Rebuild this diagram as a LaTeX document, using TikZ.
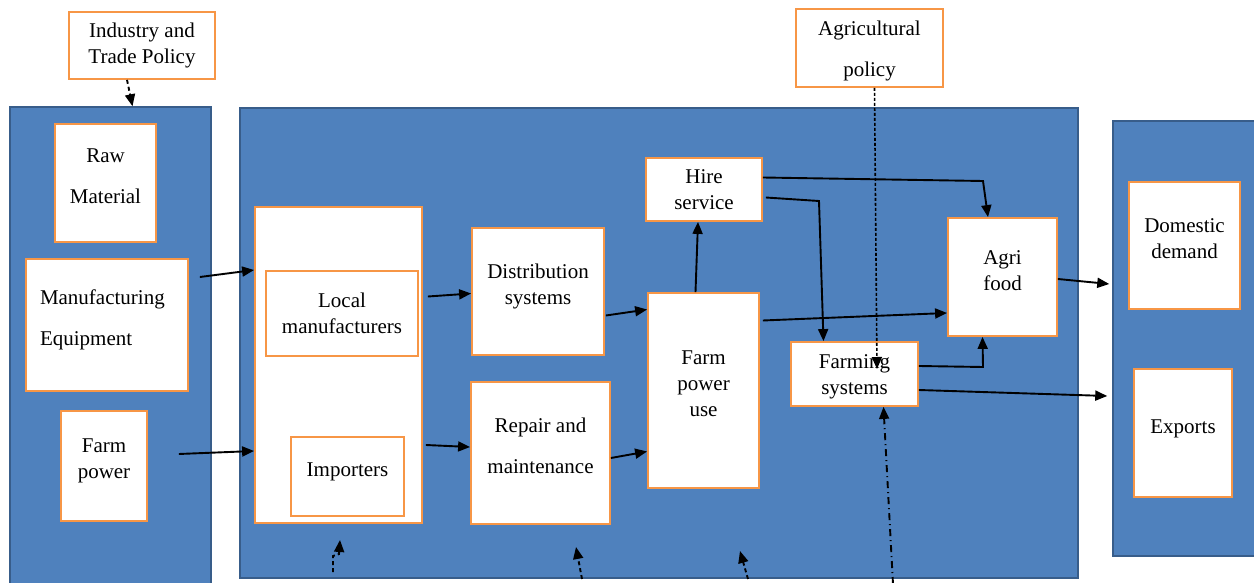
\documentclass[tikz,border=0pt]{standalone}
\usepackage{fontspec}
\setmainfont{Liberation Serif}
\usepackage{tikz}
\usetikzlibrary{arrows.meta, positioning, calc}
\definecolor{panelblue}{HTML}{4F81BD}
\definecolor{paneledge}{HTML}{385D8A}
\definecolor{boxorange}{HTML}{F79646}

\begin{document}
\begin{tikzpicture}[x=1pt, y=1pt, >={Triangle[length=12pt, width=10pt]},
    font=\fontsize{21}{26}\selectfont,
    panel/.style={draw=paneledge, line width=1.5pt, fill=panelblue},
    box/.style={draw=boxorange, line width=1.8pt, fill=white, align=flush center, inner sep=0pt},
    wide/.style={font=\fontsize{21}{41}\selectfont},
    lift/.style={execute at end node={\endgraf\vspace*{#1}}},
    lift/.default=12pt,
    flow/.style={->, line width=1.9pt},
    policy/.style={->, line width=1.9pt, dash pattern=on 4pt off 3pt}]
    \useasboundingbox (0, 0) rectangle (1254, 582);
    \clip (0, 0) rectangle (1254, 582);

    % Panels
    \node[panel, minimum width=201pt, minimum height=490pt] (supply) at (110.5, 230) {};
    \node[panel, minimum width=838pt, minimum height=470pt] (chain) at (659, 239) {};
    \node[panel, minimum width=151pt, minimum height=435pt] (market) at (1188.5, 243.5) {};

    % Policy boxes
    \node[box, text width=146pt, minimum height=67pt] (indpol) at (142, 536.5) {Industry and\\Trade Policy};
    \node[box, wide, text width=147pt, minimum height=78pt, lift=-6pt] (agpol) at (869.5, 534) {Agricultural\\policy};

    % Supply side
    \node[box, wide, lift=14pt, text width=101pt, minimum height=118pt] (raw) at (105.5, 399) {Raw\\Material};
    \node[box, wide, lift=10pt, align=flush left, text width=134pt, inner xsep=14pt, minimum height=132pt] (mfg) at (107, 257) {Manufacturing\\Equipment};
    \node[box, lift=10pt, text width=86pt, minimum height=110pt] (fpow) at (104, 116) {Farm\\power};

    % Makers
    \node[box, minimum width=167pt, minimum height=316pt] (makers) at (338.5, 217) {};
    \node[box, text width=152pt, minimum height=85pt] (local) at (342, 268.5) {Local\\manufacturers};
    \node[box, lift=10pt, text width=113pt, minimum height=79pt] (imp) at (347.5, 105.5) {Importers};

    % Services and use
    \node[box, lift=10pt, text width=132pt, minimum height=127pt] (dist) at (538, 290.5) {Distribution\\systems};
    \node[box, wide, lift=14pt, text width=139pt, minimum height=142pt] (repair) at (540.5, 129) {Repair and\\maintenance};
    \node[box, text width=116pt, minimum height=63pt] (hire) at (704, 392.5) {Hire\\service};
    \node[box, lift=14pt, text width=111pt, minimum height=195pt] (fpu) at (703.5, 191.5) {Farm\\power\\use};
    \node[box, lift, text width=109pt, minimum height=118pt] (agri) at (1002.5, 305) {Agri\\food};
    \node[box, lift=-6pt, text width=127pt, minimum height=64pt] (farming) at (854.5, 208) {Farming\\systems};

    % Markets
    \node[box, lift=14pt, text width=111pt, minimum height=127pt] (dom) at (1184.5, 336.5) {Domestic\\demand};
    \node[box, lift=8pt, text width=98pt, minimum height=128pt] (exp) at (1183, 149) {Exports};

    % Bends and loose ends
    \coordinate (bendA) at (983, 401);
    \coordinate (bendB) at (819, 381);
    \coordinate (bendC) at (983, 215);
    \coordinate (inA) at (333, 10);
    \coordinate (tipA) at (340, 42);
    \coordinate (inB) at (582, 3);
    \coordinate (tipB) at (576, 35);
    \coordinate (inC) at (748, 3);
    \coordinate (tipC) at (740, 31);
    \coordinate (inD) at (893, -2);

    % Flows
    \draw[flow] ([xshift=11pt, yshift=48pt]mfg.east) -- ([yshift=95pt]makers.west);
    \draw[flow] ([xshift=31pt, yshift=12pt]fpow.east) -- ([yshift=-86pt]makers.west);
    \draw[flow] ([xshift=9pt, yshift=17pt]local.east) -- ([yshift=-2pt]dist.west);
    \draw[flow] ([xshift=3pt, yshift=-80pt]makers.east) -- ([yshift=6pt]repair.west);
    \draw[flow] ([xshift=1pt, yshift=-24pt]dist.east) -- ([yshift=81pt]fpu.west);
    \draw[flow] ([yshift=-5pt]repair.east) -- ([yshift=-61pt]fpu.west);
    \draw[flow] ([xshift=-8pt]fpu.north) -- ([xshift=-6pt]hire.south);
    \draw[flow] ([yshift=12pt]hire.east) -- (bendA) -- ([xshift=-14.5pt]agri.north);
    \draw[flow] ([xshift=3pt, yshift=-8pt]hire.east) -- (bendB) -- ([xshift=-31pt]farming.north);
    \draw[flow] ([xshift=3pt, yshift=70pt]fpu.east) -- ([yshift=-36pt]agri.west);
    \draw[flow] ([yshift=8pt]farming.east) -- (bendC) -- ([xshift=-20pt]agri.south);
    \draw[flow] ([yshift=-16pt]farming.east) -- ([xshift=-5pt, yshift=-57.5pt]market.west);
    \draw[flow] ([yshift=-2pt]agri.east) -- ([xshift=-3pt, yshift=54.5pt]market.west);

    % Policy links
    \draw[policy] ([xshift=-15pt]indpol.south) -- ([xshift=22pt]supply.north);
    \draw[->, line width=1.6pt, dash pattern=on 3pt off 2pt] ([xshift=5pt]agpol.south) -- ([xshift=22.5pt, yshift=5pt]farming.center);
    \draw[policy] (inA) -- ++(0, 16) -- ++(6, 2) -- (tipA);
    \foreach \s/\t in {inB/tipB, inC/tipC}
        \draw[policy] (\s) -- (\t);
    \draw[->, line width=1.9pt, dash pattern=on 7pt off 4pt on 1pt off 4pt] (inD) -- ([xshift=29pt]farming.south);
\end{tikzpicture}
\end{document}
